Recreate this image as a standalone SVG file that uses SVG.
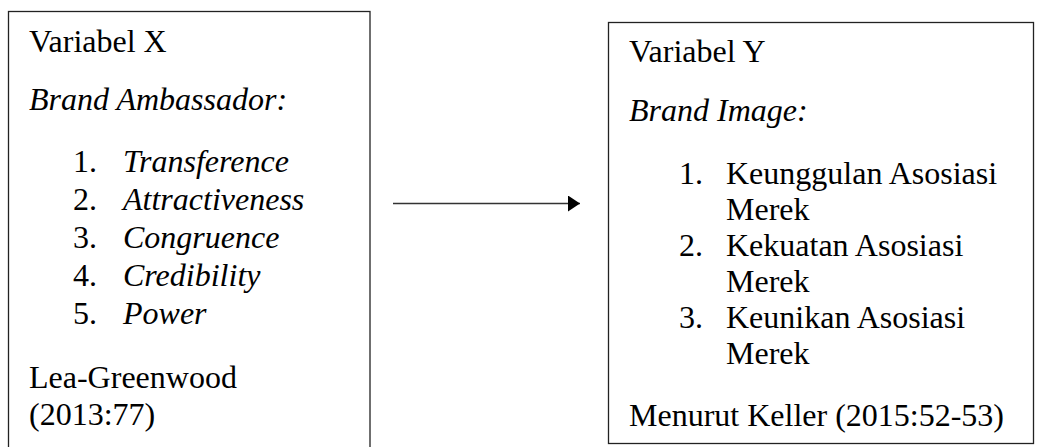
<svg xmlns="http://www.w3.org/2000/svg" width="1040" height="447" viewBox="0 0 1040 447">
<style>
  .box { fill: #ffffff; stroke: #222222; stroke-width: 1.3; }
  text { font-family: "Liberation Serif", "Times New Roman", serif; font-size: 32px; fill: #000000; }
  .it { font-style: italic; }
  .conn { stroke: #333333; stroke-width: 1.4; fill: none; }
</style>
<defs>
  <marker id="arrow" viewBox="0 0 12 16" refX="12" refY="8" markerWidth="12" markerHeight="16" markerUnits="userSpaceOnUse" orient="auto">
    <path d="M0,0 L12,8 L0,16 Z" fill="#000000"/>
  </marker>
</defs>
<rect width="1040" height="447" fill="#ffffff"/>
<g id="node-variabel-x">
  <rect class="box" x="8.5" y="11.5" width="361.5" height="450"/>
  <text x="29" y="52">Variabel X</text>
  <text x="29" y="110" class="it">Brand Ambassador:</text>
  <text x="73" y="172">1.</text><text x="123" y="172" class="it">Transference</text>
  <text x="73" y="210">2.</text><text x="123" y="210" class="it">Attractiveness</text>
  <text x="73" y="248">3.</text><text x="123" y="248" class="it">Congruence</text>
  <text x="73" y="286">4.</text><text x="123" y="286" class="it">Credibility</text>
  <text x="73" y="324">5.</text><text x="123" y="324" class="it">Power</text>
  <text x="29" y="388">Lea-Greenwood</text>
  <text x="29" y="425">(2013:77)</text>
</g>
<g id="node-variabel-y">
  <rect class="box" x="608.5" y="22.5" width="425" height="421"/>
  <text x="629" y="62">Variabel Y</text>
  <text x="629" y="121" class="it">Brand Image:</text>
  <text x="679" y="184">1.</text><text x="726" y="184">Keunggulan Asosiasi</text>
  <text x="726" y="220">Merek</text>
  <text x="679" y="256">2.</text><text x="726" y="256">Kekuatan Asosiasi</text>
  <text x="726" y="292">Merek</text>
  <text x="679" y="328">3.</text><text x="726" y="328">Keunikan Asosiasi</text>
  <text x="726" y="364">Merek</text>
  <text x="629" y="426">Menurut Keller (2015:52-53)</text>
</g>
<g id="connectors">
  <line class="conn" x1="393" y1="203.5" x2="580" y2="203.5" marker-end="url(#arrow)"/>
</g>
</svg>
